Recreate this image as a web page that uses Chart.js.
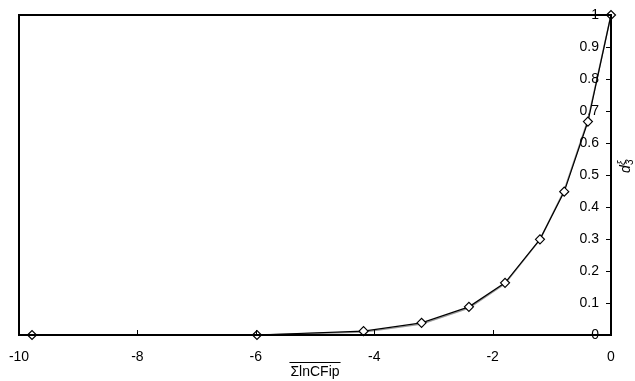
<!DOCTYPE html>
<html>
<head>
<meta charset="utf-8">
<script src="https://cdn.jsdelivr.net/npm/chart.js@4"></script>
<style>
  html, body { margin: 0; padding: 0; background: #fff; }
  #wrap { width: 635px; height: 381px; }
</style>
</head>
<body>
<div id="wrap"><canvas id="chart" width="635" height="381"></canvas></div>
<script>
// data
const xValues = [-9.78, -5.98, -4.18, -3.2, -2.4, -1.79, -1.2, -0.79, -0.39, 0];
const d3Values = [0, 0, 0.012, 0.038, 0.088, 0.163, 0.299, 0.448, 0.667, 1];
const d3Fit = [0, 0, 0.009, 0.034, 0.084, 0.16, 0.298, 0.452, 0.672, 1];
const xTicks = [-10, -8, -6, -4, -2, 0];
const yTicks = [0, 0.1, 0.2, 0.3, 0.4, 0.5, 0.6, 0.7, 0.8, 0.9, 1];

const FONT = '"Liberation Sans", Arial, sans-serif';

function toPoints(xs, ys) {
    let pts = [];
    for (let i = 0; i < xs.length; i++)
        pts.push({x: xs[i], y: ys[i]});
    return pts;
}

// frame, inward tick marks, tick labels, overline on x title, y title
const decorPlugin = {
    id: 'decor',
    afterDraw(chart) {
        const ctx = chart.ctx;
        const a = chart.chartArea;
        const xs = chart.scales.x;
        const ys = chart.scales.y;
        ctx.save();
        ctx.strokeStyle = '#000';
        ctx.lineWidth = 1;
        ctx.beginPath();
        xTicks.forEach(v => {
            let px = Math.round(xs.getPixelForValue(v)) + 0.5;
            ctx.moveTo(px, a.bottom);
            ctx.lineTo(px, a.bottom - 5);
        });
        yTicks.forEach(v => {
            let py = Math.round(ys.getPixelForValue(v)) + 0.5;
            ctx.moveTo(a.right, py);
            ctx.lineTo(a.right - 5, py);
        });
        ctx.stroke();

        ctx.lineWidth = 2;
        ctx.strokeRect(a.left, a.top, a.right - a.left, a.bottom - a.top);

        ctx.fillStyle = '#000';
        ctx.font = '14px ' + FONT;
        ctx.textBaseline = 'middle';

        // y tick labels sit inside the plot, left of the right axis
        ctx.textAlign = 'right';
        yTicks.forEach(v => {
            ctx.fillText(String(v), a.right - 12, ys.getPixelForValue(v));
        });

        // x tick labels
        ctx.textAlign = 'center';
        xTicks.forEach(v => {
            ctx.fillText(String(v), xs.getPixelForValue(v), a.bottom + 22);
        });

        // overline above x title
        const w = ctx.measureText('ΣlnCFip').width;
        const cx = (a.left + a.right) / 2;
        ctx.lineWidth = 1;
        ctx.beginPath();
        ctx.moveTo(cx - w / 2 - 1, 362.5);
        ctx.lineTo(cx + w / 2 + 1, 362.5);
        ctx.stroke();

        // y title: d with sub 3 and sup xi, rotated
        ctx.translate(626, 165);
        ctx.rotate(-Math.PI / 2);
        ctx.textAlign = 'left';
        ctx.font = 'italic 14px ' + FONT;
        ctx.fillText('d', -8, 0);
        ctx.font = 'italic 10px ' + FONT;
        ctx.fillText('ξ', 0, -4);
        ctx.fillText('3', 0, 4);
        ctx.restore();
    }
};

const data = {
    datasets: [
        {
            label: 'd3',
            data: toPoints(xValues, d3Values),
            borderColor: '#000',
            borderWidth: 1.2,
            backgroundColor: '#fff',
            pointStyle: 'rectRot',
            pointRadius: 4.5,
            pointBorderWidth: 1.2,
            pointBackgroundColor: '#fff',
            pointBorderColor: '#000',
            showLine: true,
            tension: 0
        },
        {
            label: 'fit',
            data: toPoints(xValues, d3Fit),
            borderColor: '#999',
            borderWidth: 1.5,
            pointRadius: 0,
            showLine: true,
            tension: 0
        }
    ]
};

const config = {
    type: 'scatter',
    data: data,
    options: {
        responsive: false,
        animation: false,
        clip: false,
        layout: {padding: {left: 19, top: 15, right: 0, bottom: 0}},
        plugins: {legend: {display: false}, tooltip: {enabled: false}},
        scales: {
            x: {
                type: 'linear',
                min: -10,
                max: 0,
                afterBuildTicks: s => { s.ticks = xTicks.map(v => ({value: v})); },
                grid: {display: false, drawTicks: false},
                border: {display: false},
                ticks: {display: false},
                title: {
                    display: true,
                    text: 'ΣlnCFip',
                    color: '#000',
                    padding: {top: 0, bottom: 0},
                    font: {family: FONT, size: 14}
                },
                afterFit: s => { s.height = 46; }
            },
            y: {
                type: 'linear',
                position: 'right',
                min: 0,
                max: 1,
                afterBuildTicks: s => { s.ticks = yTicks.map(v => ({value: v})); },
                grid: {display: false, drawTicks: false},
                border: {display: false},
                ticks: {display: false},
                afterFit: s => { s.width = 24; }
            }
        }
    },
    plugins: [decorPlugin]
};

let ctx = document.getElementById('chart').getContext('2d');
new Chart(ctx, config);
</script>
</body>
</html>
